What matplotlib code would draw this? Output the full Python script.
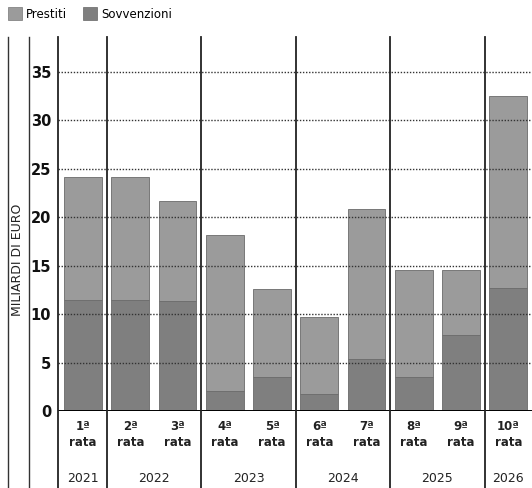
import matplotlib
matplotlib.use("Agg")
import matplotlib.pyplot as plt
from matplotlib.patches import Patch
from matplotlib.lines import Line2D
import matplotlib.transforms as mtransforms
import numpy as np

rate = ["1ª", "2ª", "3ª", "4ª", "5ª", "6ª", "7ª", "8ª", "9ª", "10ª"]
sovvenzioni = [11.5, 11.5, 11.4, 2.1, 3.5, 1.8, 5.4, 3.5, 7.8, 12.7]
prestiti = [12.6, 12.6, 10.3, 16.1, 9.1, 7.9, 15.4, 11.1, 6.8, 19.8]
years = ["2021", "2022", "2023", "2024", "2025", "2026"]
year_groups = [[0], [1, 2], [3, 4], [5, 6], [7, 8], [9]]
yticks = [0, 5, 10, 15, 20, 25, 30, 35]

C_PRE = "#9b9b9b"
C_SOV = "#7f7f7f"

W, H = 532, 488
fig = plt.figure(figsize=(W / 100, H / 100), dpi=100)
x0, y0 = 58, 411
ytop = 37
ax = fig.add_axes([x0 / W, 1 - y0 / H, (W - x0) / W, (y0 - ytop) / H])

x = np.arange(len(rate))
ax.bar(x, sovvenzioni, width=0.8, color=C_SOV, edgecolor="#6a6a6a", linewidth=0.6, zorder=2)
ax.bar(x, prestiti, bottom=sovvenzioni, width=0.8, color=C_PRE, edgecolor="#6a6a6a",
       linewidth=0.6, zorder=2)

ax.set_xlim(-0.53, 9.5)
ax.set_ylim(0, 38.6)

for v in yticks[1:]:
    ax.axhline(v, color="#333333", linewidth=1.0, linestyle=(0, (1, 1.2)), zorder=3)
ax.axhline(0, color="black", linewidth=1.4, zorder=4)

for s in ["top", "right", "bottom", "left"]:
    ax.spines[s].set_visible(False)
ax.set_xticks([])
ax.set_yticks(yticks)
ax.set_yticklabels([str(v) for v in yticks], fontsize=10.5, fontweight="bold", color="#111111")
ax.tick_params(axis="y", length=0, pad=5)

# separators (extend below the axes)
bottom_frac = -(H - y0) / (y0 - ytop)
seps = [-0.53, 0.5, 2.5, 4.5, 6.5, 8.5]
for sx in seps:
    ax.add_line(Line2D([sx, sx], [bottom_frac, 1.0], color="#222222", linewidth=1.3,
                       transform=mtransforms.blended_transform_factory(ax.transData, ax.transAxes),
                       clip_on=False, zorder=5))

trans = mtransforms.blended_transform_factory(ax.transData, fig.transFigure)
for i, r in enumerate(rate):
    ax.text(i, 1 - 427 / H, r, transform=trans, ha="center", va="center",
            fontsize=8.5, fontweight="bold", color="#222222")
    ax.text(i, 1 - 443 / H, "rata", transform=trans, ha="center", va="center",
            fontsize=8.5, fontweight="bold", color="#222222")
for yl, grp in zip(years, year_groups):
    ax.text(np.mean(grp), 1 - 479 / H, yl, transform=trans, ha="center", va="center",
            fontsize=9, color="#222222")

# left frame lines
for lx in [8, 29]:
    fig.add_artist(Line2D([lx / W, lx / W], [0, 1 - ytop / H], color="#333333",
                          linewidth=1.0, transform=fig.transFigure))

fig.text(18 / W, 1 - 260 / H, "MILIARDI DI EURO", rotation=90, ha="center", va="center",
         fontsize=9, color="#222222")

handles = [Patch(facecolor=C_PRE, edgecolor="#777777", linewidth=0.5),
           Patch(facecolor=C_SOV, edgecolor="#666666", linewidth=0.5)]
fig.legend(handles, ["Prestiti", "Sovvenzioni"], loc="center left",
           bbox_to_anchor=(8 / W, 1 - 14 / H), ncol=2, frameon=False, fontsize=8.5,
           handlelength=1.2, handleheight=1.2, handletextpad=0.35, columnspacing=1.3,
           borderaxespad=0, borderpad=0)

fig.savefig("out.png", dpi=100)
